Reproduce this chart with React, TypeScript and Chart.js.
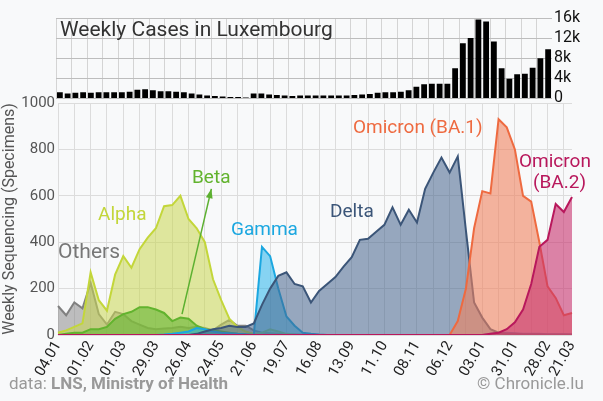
import React, { useEffect, useRef } from "react";
import { Chart, registerables } from "chart.js";
Chart.register(...registerables);

const tickLabels = ["04.01","01.02","01.03","29.03","26.04","24.05","21.06","19.07","16.08","13.09","11.10","08.11","06.12","03.01","31.01","28.02","21.03"];
const weeklyCases = [1.2,1.0,1.1,1.2,1.1,1.2,1.2,1.2,1.2,1.3,1.7,1.8,1.6,1.4,1.4,1.3,1.2,1.0,0.8,0.6,0.5,0.4,0.3,0.3,0.2,1.0,1.0,0.8,0.7,0.6,0.5,0.6,0.6,0.6,0.6,0.6,0.6,0.6,0.7,0.8,0.9,1.1,1.2,1.2,1.3,1.6,2.3,2.8,2.9,2.9,2.9,6.0,11.0,12.0,15.7,15.3,11.3,6.0,3.9,4.8,4.9,6.1,8.0,9.8].map(v => v * 1000);
const others = [125,85,140,115,225,90,45,100,90,60,45,30,25,28,30,35,30,35,30,20,45,65,40,40,20,10,8,5,3,2,1,0,0,0,0,0,0,0,0,0,0,0,0,0,0,0,0,0,0,0,0,0,0,0,0,0,0,0,0,0,0,0,0,0];
const alpha = [10,20,35,50,270,150,105,260,340,290,370,420,460,555,560,600,500,460,400,240,150,70,35,15,5,10,25,15,5,2,0,0,0,0,0,0,0,0,0,0,0,0,0,0,0,0,0,0,0,0,0,0,0,0,0,0,0,0,0,0,0,0,0,0];
const beta = [0,5,10,10,25,25,35,70,90,100,120,120,110,95,60,75,70,40,25,20,15,10,5,2,0,0,0,0,0,0,0,0,0,0,0,0,0,0,0,0,0,0,0,0,0,0,0,0,0,0,0,0,0,0,0,0,0,0,0,0,0,0,0,0];
const gamma = [0,0,0,0,0,0,0,0,0,0,0,0,0,2,5,10,15,30,25,15,10,8,5,3,0,380,340,200,80,40,10,5,2,0,0,0,0,0,0,0,0,0,0,0,0,0,0,0,0,0,0,0,0,5,10,10,8,5,5,5,3,3,3,2];
const delta = [0,0,0,0,0,0,0,0,0,0,0,0,0,0,0,0,0,5,15,25,30,40,35,35,50,130,200,255,270,220,210,140,190,220,250,295,335,410,415,445,475,550,475,540,485,630,700,765,700,770,450,140,75,25,10,5,5,3,3,3,2,2,2,2];
const ba1 = [0,0,0,0,0,0,0,0,0,0,0,0,0,0,0,0,0,0,0,0,0,0,0,0,0,0,0,0,0,0,0,0,0,0,0,0,0,0,0,0,0,0,0,0,0,0,0,0,0,60,200,460,620,610,930,895,800,600,575,400,210,160,85,95];
const ba2 = [0,0,0,0,0,0,0,0,0,0,0,0,0,0,0,0,0,0,0,0,0,0,0,0,0,0,0,0,0,0,0,0,0,0,0,0,0,0,0,0,0,0,0,0,0,0,0,0,0,0,0,0,0,5,10,25,55,110,220,380,410,565,530,595];

const N = 64;
const idx = Array.from({ length: N }, (_, i) => i);
const labelFor = (i: number) => (i === N - 1 ? tickLabels[tickLabels.length - 1] : i % 4 === 0 ? tickLabels[i / 4] : "");
const FONT = "Roboto";

export default function App() {
  const topRef = useRef<HTMLCanvasElement>(null);
  const botRef = useRef<HTMLCanvasElement>(null);
  useEffect(() => {
    const top = new Chart(topRef.current!, {
      type: "bar",
      data: { labels: idx, datasets: [{ data: weeklyCases, backgroundColor: "#000", barPercentage: 0.75, categoryPercentage: 1 }] },
      options: {
        animation: false, responsive: false,
        layout: { padding: { left: 56, top: 18, bottom: 10, right: 0 } },
        plugins: { legend: { display: false }, tooltip: { enabled: false } },
        scales: {
          x: { display: true, ticks: { display: false }, border: { display: false },
               grid: { color: (c: any) => (c.index % 2 === 0 ? "#d4d4d4" : "rgba(0,0,0,0)"), drawTicks: false },
               afterFit: (s: any) => { s.height = 0; } },
          y: { position: "right", min: 0, max: 16000, border: { display: false },
               ticks: { stepSize: 4000, autoSkip: false, color: "#111", font: { family: FONT, size: 16 }, padding: 2,
                        callback: (v: any) => (v === 0 ? "0" : v / 1000 + "k") },
               grid: { color: "#bdbdbd", drawTicks: false },
               afterFit: (s: any) => { s.width = 51; } },
        },
      },
    });
    const arrow = {
      id: "arrow",
      afterDatasetsDraw(ch: any) {
        const { ctx, scales } = ch;
        const x1 = scales.x.getPixelForValue(15.2), y1 = scales.y.getPixelForValue(90);
        const x2 = scales.x.getPixelForValue(18.8), y2 = scales.y.getPixelForValue(630);
        ctx.save();
        ctx.strokeStyle = "#5cb030"; ctx.fillStyle = "#5cb030"; ctx.lineWidth = 1.5;
        ctx.beginPath(); ctx.moveTo(x1, y1); ctx.lineTo(x2, y2); ctx.stroke();
        const a = Math.atan2(y2 - y1, x2 - x1);
        ctx.beginPath(); ctx.moveTo(x2, y2);
        ctx.lineTo(x2 - 10 * Math.cos(a - 0.35), y2 - 10 * Math.sin(a - 0.35));
        ctx.lineTo(x2 - 10 * Math.cos(a + 0.35), y2 - 10 * Math.sin(a + 0.35));
        ctx.closePath(); ctx.fill();
        ctx.restore();
      },
    };
    const ds = (data: number[], line: string, fill: string) => ({
      data, borderColor: line, backgroundColor: fill, fill: "origin", borderWidth: 2, pointRadius: 0, tension: 0,
    });
    const bot = new Chart(botRef.current!, {
      type: "line",
      data: {
        labels: idx,
        datasets: [
          ds(ba2, "#b8185c", "rgba(200,50,110,0.6)"),
          ds(ba1, "#ee6a40", "rgba(240,130,95,0.6)"),
          ds(delta, "#3b5578", "rgba(70,100,140,0.55)"),
          ds(gamma, "#1ba7e0", "rgba(40,180,235,0.55)"),
          ds(beta, "#62b32e", "rgba(100,180,50,0.6)"),
          ds(alpha, "#c3d63a", "rgba(200,215,80,0.55)"),
          ds(others, "#808080", "rgba(130,130,130,0.5)"),
        ],
      },
      options: {
        animation: false, responsive: false,
        layout: { padding: { left: 0, top: 103, right: 31, bottom: 0 } },
        plugins: { legend: { display: false }, tooltip: { enabled: false } },
        scales: {
          x: { type: "category", offset: false, border: { display: false },
               ticks: { autoSkip: false, minRotation: 60, maxRotation: 60, color: "#222", font: { family: FONT, size: 15 },
                        callback: (v: any) => labelFor(Number(v)) },
               grid: { color: (c: any) => (c.index % 2 === 0 ? "#dcdcdc" : "rgba(0,0,0,0)"), drawTicks: false },
               afterFit: (s: any) => { s.height = 66; } },
          y: { min: 0, max: 1000, border: { display: false },
               ticks: { stepSize: 200, color: "#555", font: { family: FONT, size: 15 }, padding: 3, callback: (v: any) => String(v) },
               grid: { color: "#dcdcdc", drawTicks: false },
               title: { display: true, text: "Weekly Sequencing (Specimens)", color: "#555", font: { family: FONT, size: 16 }, padding: 0 },
               afterFit: (s: any) => { s.width = 58; } },
        },
      },
      plugins: [arrow],
    });
    return () => { top.destroy(); bot.destroy(); };
  }, []);
  const lbl = (text: any, left: number, topY: number, color: string, size = 20, extra: any = {}) => (
    <div style={{ position: "absolute", left, top: topY, color, fontSize: size, fontFamily: FONT, lineHeight: 1, whiteSpace: "nowrap", ...extra }}>{text}</div>
  );
  return (
    <div style={{ position: "fixed", left: 0, top: 0, width: 603, height: 401, background: "#f8f9fa", overflow: "hidden" }}>
      <canvas ref={botRef} width={603} height={401} style={{ position: "absolute", left: 0, top: 0 }} />
      <canvas ref={topRef} width={603} height={110} style={{ position: "absolute", left: 0, top: 0 }} />
      {lbl("Weekly Cases in Luxembourg", 60, 19, "#333", 21)}
      {lbl("Others", 58, 241, "#777", 21)}
      {lbl("Alpha", 98, 204, "#c3d63a", 19)}
      {lbl("Beta", 192, 167, "#62b32e", 19)}
      {lbl("Gamma", 231, 219, "#1ba7e0", 19)}
      {lbl("Delta", 330, 201, "#3b5578", 19)}
      {lbl("Omicron (BA.1)", 353, 117, "#ee6a40", 19)}
      {lbl("Omicron", 519, 151, "#b8185c", 19)}
      {lbl("(BA.2)", 533, 172, "#b8185c", 19)}
      <div style={{ position: "absolute", left: 9, top: 373, color: "#999", fontSize: 17, fontFamily: FONT }}>data: <b>LNS, Ministry of Health</b></div>
      {lbl("© Chronicle.lu", 477, 375, "#999", 17)}
    </div>
  );
}
